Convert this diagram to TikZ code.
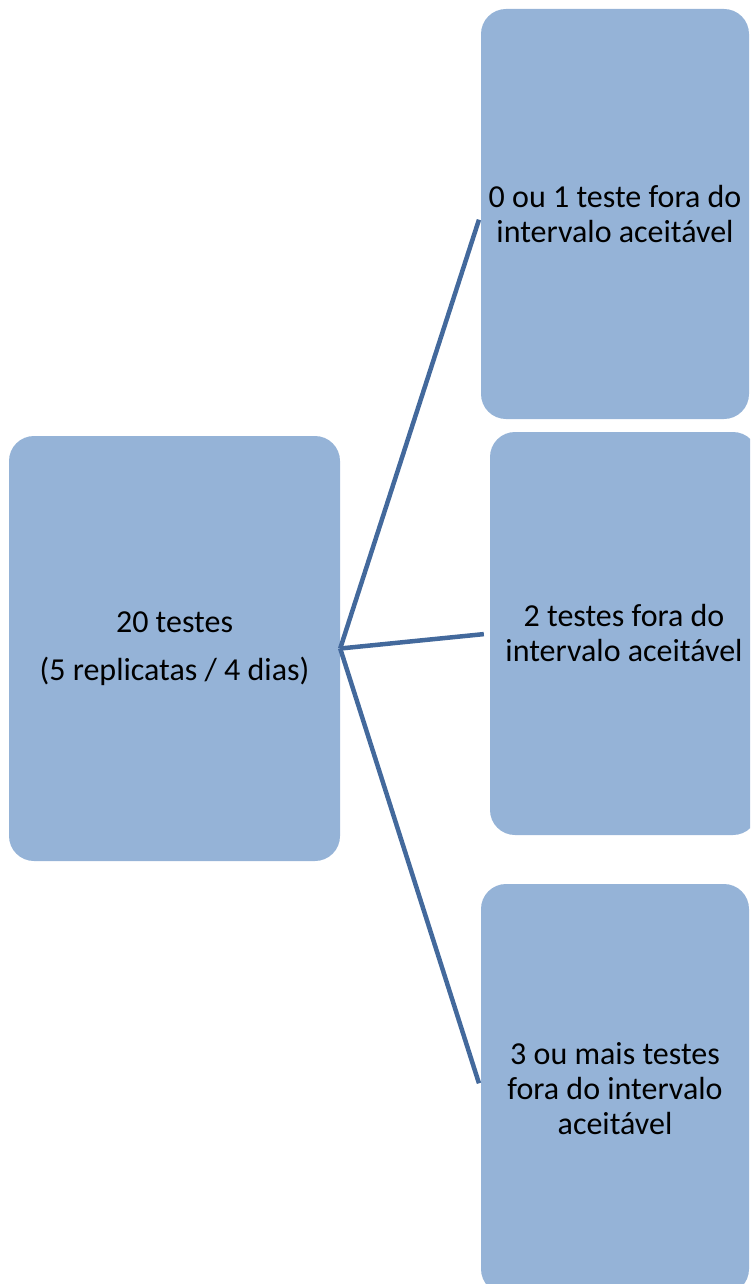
\documentclass[tikz,border=0pt]{standalone}
\usepackage{fontspec}
\setmainfont{Carlito}
\definecolor{boxfill}{HTML}{95B3D7}
\definecolor{linkblue}{HTML}{43699C}
\begin{document}
\begin{tikzpicture}
  [x=1pt,y=-1pt,every node/.style={rectangle,rounded corners=25pt,fill=boxfill,align=center,inner sep=0pt,font=\fontsize{32}{35}\selectfont}]
  \useasboundingbox (0,0) rectangle (750,1284);
  \clip (0,0) rectangle (750,1284);
  \node[minimum width=331pt,minimum height=425pt] (n1) at (174.5,648.5) {20 testes\\[13pt](5 replicatas / 4 dias)};
  \node[minimum width=268pt,minimum height=410pt] (n2) at (615,214) {0 ou 1 teste fora do\\intervalo aceitável};
  \node[minimum width=268pt,minimum height=403pt] (n3) at (624,633.5) {2 testes fora do\\intervalo aceitável};
  \node[minimum width=268pt,minimum height=410pt] (n4) at (615,1089) {3 ou mais testes\\fora do intervalo\\aceitável};
  \foreach \from/\to in {n1/n2,n1/n3,n1/n4}
    \draw[linkblue,line width=4.5pt,shorten >=6pt] (\from.east) -- (\to.west);
\end{tikzpicture}
\end{document}
